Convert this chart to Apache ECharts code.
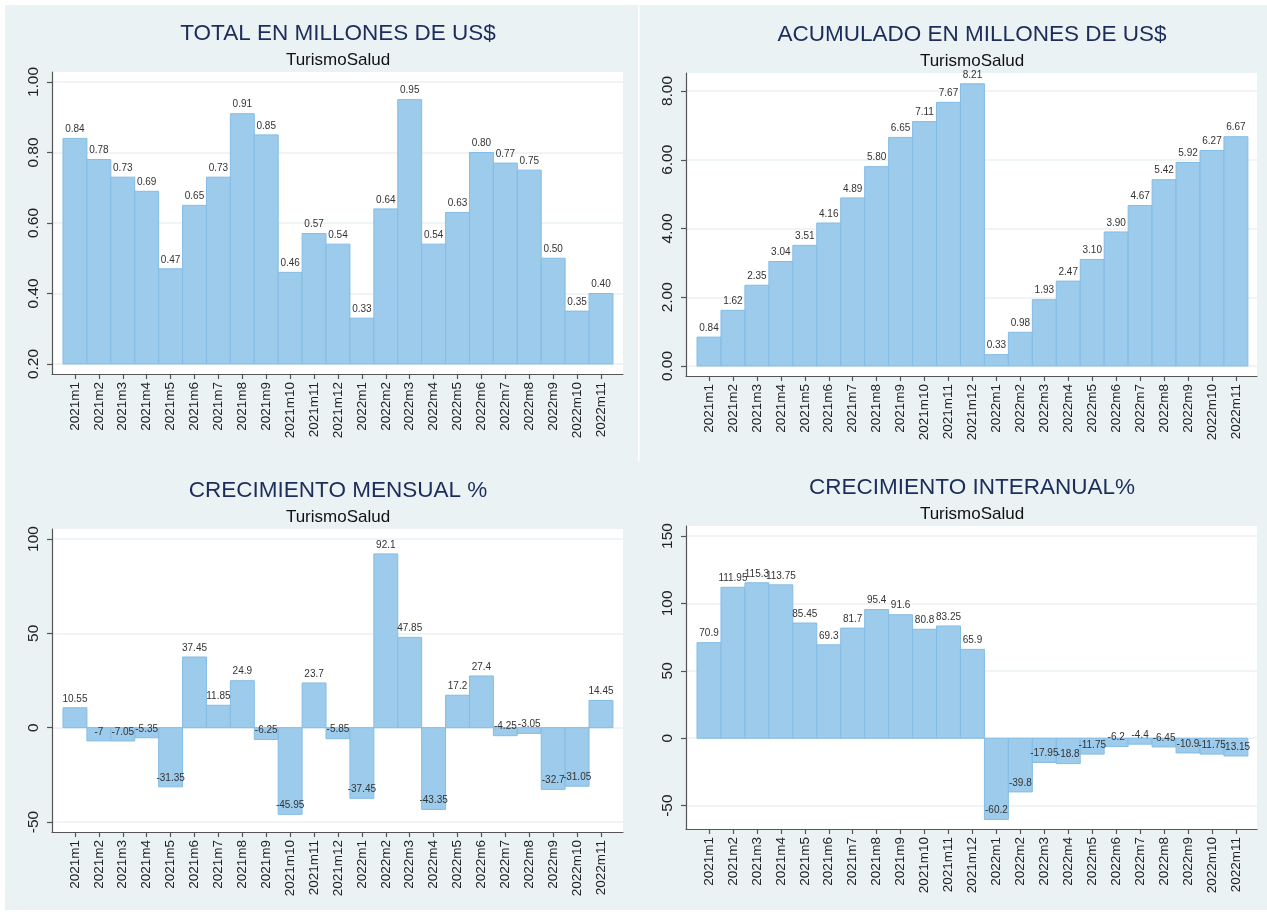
<!DOCTYPE html>
<html>
<head>
<meta charset="utf-8">
<title>TurismoSalud</title>
<script src="https://cdn.jsdelivr.net/npm/echarts@6.0.0/dist/echarts.min.js"></script>
<style>
  html, body { margin: 0; padding: 0; background: #fff; }
  #main { width: 1267px; height: 914px; }
</style>
</head>
<body>
<div id="main"></div>
<script>
// datos
var meses = ['2021m1','2021m2','2021m3','2021m4','2021m5','2021m6','2021m7','2021m8','2021m9','2021m10','2021m11','2021m12',
             '2022m1','2022m2','2022m3','2022m4','2022m5','2022m6','2022m7','2022m8','2022m9','2022m10','2022m11'];
var total = [0.84,0.78,0.73,0.69,0.47,0.65,0.73,0.91,0.85,0.46,0.57,0.54,0.33,0.64,0.95,0.54,0.63,0.80,0.77,0.75,0.50,0.35,0.40];
var acumulado = [0.84,1.62,2.35,3.04,3.51,4.16,4.89,5.80,6.65,7.11,7.67,8.21,0.33,0.98,1.93,2.47,3.10,3.90,4.67,5.42,5.92,6.27,6.67];
var mensual = [10.55,-7,-7.05,-5.35,-31.35,37.45,11.85,24.9,-6.25,-45.95,23.7,-5.85,-37.45,92.1,47.85,-43.35,17.2,27.4,-4.25,-3.05,-32.7,-31.05,14.45];
var interanual = [70.9,111.95,115.3,113.75,85.45,69.3,81.7,95.4,91.6,80.8,83.25,65.9,-60.2,-39.8,-17.95,-18.8,-11.75,-6.2,-4.4,-6.45,-10.9,-11.75,-13.15];
var ticksTotal = [0.2,0.4,0.6,0.8,1.0];
var ticksAcum = [0,2,4,6,8];
var ticksMensual = [-50,0,50,100];
var ticksInter = [-50,0,50,100,150];
var subtitulo = 'TurismoSalud';

var posiciones = meses.map(function (m, i) { return i + 1; });

var fuente = '"Liberation Sans", Arial, Helvetica, sans-serif';
var colorBarra = '#9dcbeb', bordeBarra = '#84bce5';

var paneles = [
  { titulo: 'TOTAL EN MILLONES DE US$', valores: total, ticks: ticksTotal, base: 0.2, dec: 2,
    caja: [52, 72, 571, 302], rangoX: [0.04, 23.92], rangoY: [0.1716, 1.0284], centro: 338, yTit: 23, ySub: 52 },
  { titulo: 'ACUMULADO EN MILLONES DE US$', valores: acumulado, ticks: ticksAcum, base: 0, dec: 2,
    caja: [686, 73, 571, 303], rangoX: [0.04, 23.88], rangoY: [-0.291, 8.524], centro: 972, yTit: 24, ySub: 53 },
  { titulo: 'CRECIMIENTO MENSUAL %', valores: mensual, ticks: ticksMensual, base: 0, dec: null,
    caja: [52, 529, 571, 303], rangoX: [0.04, 23.92], rangoY: [-55.3, 105.3], centro: 338, yTit: 479.5, ySub: 509 },
  { titulo: 'CRECIMIENTO INTERANUAL%', valores: interanual, ticks: ticksInter, base: 0, dec: null,
    caja: [686, 526, 571, 303], rangoX: [0.04, 23.88], rangoY: [-67.3, 157.4], centro: 972, yTit: 477, ySub: 506 }
];

function formato(v, dec) {
  return dec == null ? String(v) : v.toFixed(dec);
}

// barra desde la base hasta el valor, etiqueta siempre encima del extremo
function dibujarBarra(base, dec) {
  return function (params, api) {
    var x = api.value(0), v = api.value(1);
    var p0 = api.coord([x, base]);
    var p1 = api.coord([x, v]);
    var w = api.size([1, 0])[0];
    return {
      type: 'group',
      children: [{
        type: 'rect',
        shape: { x: p0[0] - w / 2, y: Math.min(p0[1], p1[1]), width: w, height: Math.abs(p1[1] - p0[1]) },
        style: { fill: colorBarra, stroke: bordeBarra, lineWidth: 1 },
        z2: 1
      }, {
        type: 'text',
        x: p1[0], y: p1[1] - 4,
        style: { text: formato(v, dec), fill: '#333', font: '10px ' + fuente, align: 'center', verticalAlign: 'bottom' },
        z2: 10
      }]
    };
  };
}

var option = {
  backgroundColor: '#fff',
  animation: false,
  graphic: [
    { type: 'rect', z: -10, shape: { x: 5, y: 5, width: 1262, height: 905 }, style: { fill: '#eaf2f3' } },
    { type: 'rect', z: -9, shape: { x: 638, y: 5, width: 1.5, height: 456 }, style: { fill: '#ffffff' } }
  ],
  title: [], grid: [], xAxis: [], yAxis: [], series: []
};

paneles.forEach(function (p, k) {
  option.title.push({
    text: p.titulo, left: p.centro, top: p.yTit, textAlign: 'center', padding: 0,
    textStyle: { fontFamily: fuente, fontSize: 22.5, lineHeight: 22.5, fontWeight: 'normal', color: '#1c2d5b' }
  });
  option.title.push({
    text: subtitulo, left: p.centro, top: p.ySub, textAlign: 'center', padding: 0,
    textStyle: { fontFamily: fuente, fontSize: 17, lineHeight: 17, fontWeight: 'normal', color: '#111' }
  });
  option.grid.push({
    left: p.caja[0], top: p.caja[1], width: p.caja[2], height: p.caja[3],
    show: true, backgroundColor: '#fff', borderWidth: 0
  });
  option.xAxis.push({
    type: 'value', gridIndex: k, min: p.rangoX[0], max: p.rangoX[1],
    axisLine: { show: true, onZero: false, lineStyle: { color: '#555', width: 1.2 } },
    axisTick: { show: true, length: 5, customValues: posiciones, lineStyle: { color: '#555', width: 1.2 } },
    axisLabel: {
      customValues: posiciones, rotate: 90, margin: 8, fontFamily: fuente, fontSize: 13.5, color: '#222',
      formatter: function (v) { return meses[Math.round(v) - 1]; }
    },
    splitLine: { show: false }
  });
  option.yAxis.push({
    type: 'value', gridIndex: k, min: p.rangoY[0], max: p.rangoY[1],
    axisLine: { show: true, onZero: false, lineStyle: { color: '#555', width: 1.2 } },
    axisTick: { show: true, length: 5, customValues: p.ticks, lineStyle: { color: '#555', width: 1.2 } },
    axisLabel: {
      customValues: p.ticks, rotate: 90, margin: 10, fontFamily: fuente, fontSize: 15.5, color: '#222',
      formatter: function (v) { return formato(v, p.dec); }
    },
    splitLine: { show: true, lineStyle: { color: '#eaf2f3', width: 1.5 } }
  });
  option.series.push({
    type: 'custom', xAxisIndex: k, yAxisIndex: k,
    encode: { x: 0, y: 1 },
    data: p.valores.map(function (v, i) { return [posiciones[i], v]; }),
    renderItem: dibujarBarra(p.base, p.dec)
  });
});

var myChart = echarts.init(document.getElementById('main'), null, { renderer: 'canvas' });
myChart.setOption(option);
</script>
</body>
</html>
